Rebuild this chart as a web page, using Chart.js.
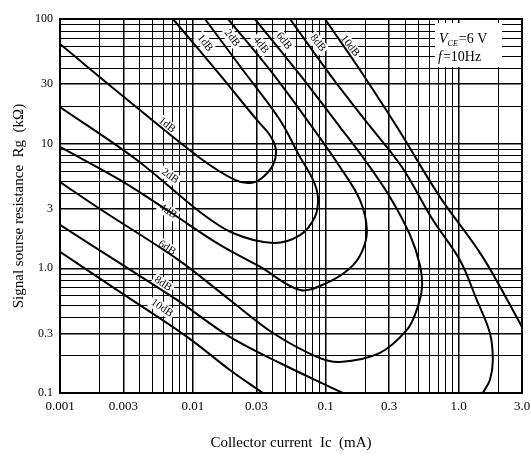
<!DOCTYPE html>
<html>
<head>
<meta charset="utf-8">
<title>Noise figure contours</title>
<script src="https://cdn.jsdelivr.net/npm/chart.js@4.4.0/dist/chart.umd.min.js"></script>
<style>
  html, body { margin: 0; padding: 0; background: #fff; }
</style>
</head>
<body>
<canvas id="nf-chart" width="531" height="457"></canvas>
<script>
// NF contours, collector current (mA) vs source resistance (kOhm)
// each contour runs from the top edge, round the right side, back to the left edge
const nf1X = [0.00708, 0.0160, 0.0303, 0.0380, 0.0422, 0.0401, 0.0331, 0.0269, 0.0207, 0.0113, 0.00337, 0.001];
const nf1Y = [100, 35.6, 15.5, 11.7, 8.9, 6.75, 5.31, 4.84, 5.12, 7.68, 21.6, 63];

const nf2X = [0.01233, 0.0238, 0.0452, 0.0640, 0.0802, 0.0873, 0.0829, 0.0640, 0.0401, 0.0200, 0.0113, 0.00379, 0.001];
const nf2Y = [100, 39.0, 15.5, 7.82, 5.12, 3.74, 2.58, 1.85, 1.60, 1.92, 2.83, 7.40, 19.7];

const nf4X = [0.0184, 0.0380, 0.0723, 0.128, 0.181, 0.204, 0.187, 0.152, 0.102, 0.0640, 0.0320, 0.0160, 0.00673, 0.00282, 0.001];
const nf4Y = [100, 39.0, 15.5, 6.50, 3.53, 2.03, 1.355, 1.0, 0.764, 0.671, 1.03, 1.54, 2.83, 5.12, 9.41];

const nf6X = [0.0293, 0.0640, 0.128, 0.197, 0.304, 0.431, 0.512, 0.530, 0.478, 0.408, 0.256, 0.128, 0.0859, 0.0401, 0.0190, 0.00759, 0.0020, 0.001];
const nf6Y = [100, 35.6, 13.6, 7.40, 3.74, 1.85, 1.06, 0.697, 0.447, 0.321, 0.210, 0.1775, 0.195, 0.303, 0.558, 1.19, 2.99, 4.93];

// 8dB and 10dB leave through the bottom edge, so they come in two pieces
const nf8UpperX = [0.0538, 0.108, 0.197, 0.374, 0.641, 1.02, 1.37, 1.72, 1.81, 1.72, 1.52];
const nf8UpperY = [100, 35.6, 15.5, 6.50, 2.44, 1.17, 0.558, 0.303, 0.184, 0.127, 0.1];
const nf8LowerX = [0.001, 0.00282, 0.00759, 0.0190, 0.0452, 0.1346];
const nf8LowerY = [2.23, 1.10, 0.558, 0.282, 0.174, 0.1];

const nf10UpperX = [0.0986, 0.181, 0.344, 0.723, 1.52, 3.0];
const nf10UpperY = [100, 39.0, 13.6, 3.74, 1.23, 0.339];
const nf10LowerX = [0.001, 0.00282, 0.00904, 0.0190, 0.0336];
const nf10LowerY = [1.355, 0.647, 0.282, 0.153, 0.1];

const xTickValues = [0.001, 0.003, 0.01, 0.03, 0.1, 0.3, 1, 3];
const xTickLabels = ['0.001', '0.003', '0.01', '0.03', '0.1', '0.3', '1.0', '3.0'];
const yTickValues = [0.1, 0.3, 1, 3, 10, 30, 100];
const yTickLabels = ['0.1', '0.3', '1.0', '3', '10', '30', '100'];

// dB tags written beside each branch
const curveLabels = [
  { text: '1dB', x: 0.01233, y: 64.2, angle: 52 },
  { text: '2dB', x: 0.0197, y: 70.4, angle: 52 },
  { text: '4dB', x: 0.0325, y: 61.9, angle: 52 },
  { text: '6dB', x: 0.0484, y: 66.7, angle: 52 },
  { text: '8dB', x: 0.0873, y: 64.2, angle: 52 },
  { text: '10dB', x: 0.152, y: 60.8, angle: 52 },
  { text: '1dB', x: 0.00638, y: 14.1, angle: 38 },
  { text: '2dB', x: 0.00673, y: 5.5, angle: 36 },
  { text: '4dB', x: 0.0065, y: 2.88, angle: 33 },
  { text: '6dB', x: 0.00638, y: 1.46, angle: 33 },
  { text: '8dB', x: 0.00596, y: 0.75, angle: 33 },
  { text: '10dB', x: 0.00586, y: 0.481, angle: 34 }
];

const SERIF = '"Liberation Serif", "DejaVu Serif", serif';

function toPoints(xs, ys) {
  return xs.map((x, i) => ({ x: x, y: ys[i] }));
}

// 1..9 x 10^k inside the axis range, one grid line each
function logGrid(min, max) {
  const out = [];
  for (let e = Math.floor(Math.log10(min)); e <= Math.ceil(Math.log10(max)); e++) {
    for (let m = 1; m <= 9; m++) {
      const v = m * Math.pow(10, e);
      if (v >= min * 0.999 && v <= max * 1.001) out.push(v);
    }
  }
  return out;
}

function labelFor(values, labels, v) {
  const i = values.findIndex(t => Math.abs(t - v) / t < 1e-6);
  return i >= 0 ? labels[i] : '';
}

function curve(xs, ys) {
  return {
    data: toPoints(xs, ys),
    showLine: true,
    borderColor: '#000',
    borderWidth: 2,
    pointRadius: 0,
    tension: 0.35,
    fill: false
  };
}

const overlay = {
  id: 'overlay',
  beforeDatasetsDraw(chart) {
    const { ctx, chartArea, scales: { x, y } } = chart;
    ctx.save();
    ctx.font = '11px ' + SERIF;
    ctx.textAlign = 'center';
    ctx.textBaseline = 'middle';
    curveLabels.forEach(l => {
      ctx.save();
      ctx.translate(x.getPixelForValue(l.x), y.getPixelForValue(l.y));
      ctx.rotate(l.angle * Math.PI / 180);
      const w = ctx.measureText(l.text).width;
      ctx.fillStyle = '#fff';
      ctx.fillRect(-w / 2 - 2, -6, w + 4, 12);
      ctx.fillStyle = '#000';
      ctx.fillText(l.text, 0, 0);
      ctx.restore();
    });

    // test conditions box, top right
    const bx = chartArea.right - 87, by = chartArea.top + 4;
    ctx.fillStyle = '#fff';
    ctx.fillRect(bx, by, 67, 44);
    ctx.fillStyle = '#000';
    ctx.textAlign = 'left';
    ctx.textBaseline = 'alphabetic';
    let tx = bx + 4;
    ctx.font = 'italic 14px ' + SERIF;
    ctx.fillText('V', tx, by + 20);
    tx += ctx.measureText('V').width;
    ctx.font = 'italic 8px ' + SERIF;
    ctx.fillText('CE', tx, by + 23);
    tx += ctx.measureText('CE').width + 1;
    ctx.font = '14px ' + SERIF;
    ctx.fillText('=6 V', tx, by + 20);
    tx = bx + 3;
    ctx.font = 'italic 14px ' + SERIF;
    ctx.fillText('f', tx, by + 38);
    tx += ctx.measureText('f').width + 1;
    ctx.font = '14px ' + SERIF;
    ctx.fillText('=10Hz', tx, by + 38);
    ctx.restore();
  },
  afterDatasetsDraw(chart) {
    const { ctx, chartArea } = chart;
    ctx.save();
    ctx.strokeStyle = '#000';
    ctx.lineWidth = 2;
    ctx.strokeRect(chartArea.left, chartArea.top, chartArea.right - chartArea.left, chartArea.bottom - chartArea.top);
    ctx.restore();
  }
};

const isMajor = (values, c) => {
  const v = c.tick ? c.tick.value : 0;
  return values.some(t => Math.abs(t - v) / t < 1e-6);
};

new Chart(document.getElementById('nf-chart').getContext('2d'), {
  type: 'scatter',
  data: {
    datasets: [
      curve(nf1X, nf1Y),
      curve(nf2X, nf2Y),
      curve(nf4X, nf4Y),
      curve(nf6X, nf6Y),
      curve(nf8UpperX, nf8UpperY),
      curve(nf8LowerX, nf8LowerY),
      curve(nf10UpperX, nf10UpperY),
      curve(nf10LowerX, nf10LowerY)
    ]
  },
  options: {
    responsive: false,
    animation: false,
    layout: { padding: { top: 19, right: 9, left: 0, bottom: 0 } },
    plugins: { legend: { display: false }, tooltip: { enabled: false } },
    scales: {
      x: {
        type: 'logarithmic',
        min: 0.001,
        max: 3,
        afterBuildTicks: (s) => { s.ticks = logGrid(0.001, 3).map(v => ({ value: v })); },
        // the last label may hang over the right margin
        afterFit: (s) => { s.height = 64; s.paddingRight = 0; s.paddingLeft = 0; },
        ticks: {
          autoSkip: false,
          maxRotation: 0,
          padding: 6,
          color: '#000',
          font: { family: SERIF, size: 13 },
          callback: (v) => labelFor(xTickValues, xTickLabels, v)
        },
        grid: {
          color: '#000',
          lineWidth: (c) => isMajor(xTickValues, c) ? 1.5 : 1,
          drawTicks: false
        },
        border: { color: '#000', width: 2 },
        title: {
          display: true,
          text: 'Collector current  Ic  (mA)',
          color: '#000',
          font: { family: SERIF, size: 15 },
          padding: { top: 0, bottom: 5 }
        }
      },
      y: {
        type: 'logarithmic',
        min: 0.1,
        max: 100,
        afterBuildTicks: (s) => { s.ticks = logGrid(0.1, 100).map(v => ({ value: v })); },
        afterFit: (s) => { s.width = 60; },
        ticks: {
          autoSkip: false,
          padding: 7,
          color: '#000',
          font: { family: SERIF, size: 12 },
          callback: (v) => labelFor(yTickValues, yTickLabels, v)
        },
        grid: {
          color: '#000',
          lineWidth: (c) => isMajor(yTickValues, c) ? 1.5 : 1,
          drawTicks: false
        },
        border: { color: '#000', width: 2 },
        title: {
          display: true,
          text: 'Signal sourse resistance  Rg  (kΩ)',
          color: '#000',
          font: { family: SERIF, size: 15 },
          padding: { top: 10, bottom: 0 }
        }
      }
    }
  },
  plugins: [overlay]
});
</script>
</body>
</html>
